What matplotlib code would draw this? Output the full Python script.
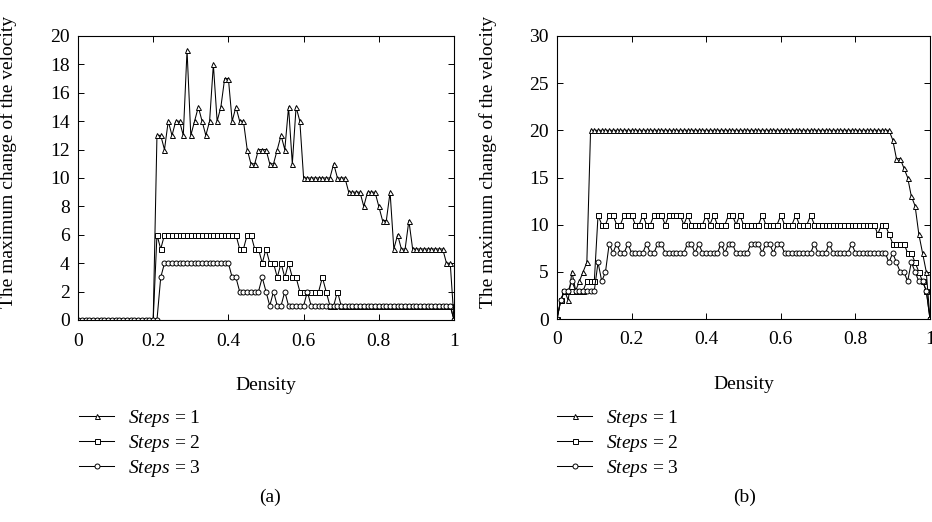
import numpy as np
import matplotlib
matplotlib.use("Agg")
import matplotlib.pyplot as plt

plt.rcParams['font.family'] = ['Liberation Serif', 'DejaVu Serif']
plt.rcParams['mathtext.fontset'] = 'custom'
plt.rcParams['mathtext.rm'] = 'Liberation Serif'
plt.rcParams['mathtext.it'] = 'Liberation Serif:italic'

# densidad 0.00 ... 1.00
density = np.linspace(0, 1, 101)

# panel (a)
a_steps1 = [0, 0, 0, 0, 0, 0, 0, 0, 0, 0,
            0, 0, 0, 0, 0, 0, 0, 0, 0, 0,
            0, 13, 13, 12, 14, 13, 14, 14, 13, 19,
            13, 14, 15, 14, 13, 14, 18, 14, 15, 17,
            17, 14, 15, 14, 14, 12, 11, 11, 12, 12,
            12, 11, 11, 12, 13, 12, 15, 11, 15, 14,
            10, 10, 10, 10, 10, 10, 10, 10, 11, 10,
            10, 10, 9, 9, 9, 9, 8, 9, 9, 9,
            8, 7, 7, 9, 5, 6, 5, 5, 7, 5,
            5, 5, 5, 5, 5, 5, 5, 5, 4, 4,
            0]
a_steps2 = [0, 0, 0, 0, 0, 0, 0, 0, 0, 0,
            0, 0, 0, 0, 0, 0, 0, 0, 0, 0,
            0, 6, 5, 6, 6, 6, 6, 6, 6, 6,
            6, 6, 6, 6, 6, 6, 6, 6, 6, 6,
            6, 6, 6, 5, 5, 6, 6, 5, 5, 4,
            5, 4, 4, 3, 4, 3, 4, 3, 3, 2,
            2, 2, 2, 2, 2, 3, 2, 1, 1, 2,
            1, 1, 1, 1, 1, 1, 1, 1, 1, 1,
            1, 1, 1, 1, 1, 1, 1, 1, 1, 1,
            1, 1, 1, 1, 1, 1, 1, 1, 1, 1,
            0]
a_steps3 = [0, 0, 0, 0, 0, 0, 0, 0, 0, 0,
            0, 0, 0, 0, 0, 0, 0, 0, 0, 0,
            0, 0, 3, 4, 4, 4, 4, 4, 4, 4,
            4, 4, 4, 4, 4, 4, 4, 4, 4, 4,
            4, 3, 3, 2, 2, 2, 2, 2, 2, 3,
            2, 1, 2, 1, 1, 2, 1, 1, 1, 1,
            1, 2, 1, 1, 1, 1, 1, 1, 1, 1,
            1, 1, 1, 1, 1, 1, 1, 1, 1, 1,
            1, 1, 1, 1, 1, 1, 1, 1, 1, 1,
            1, 1, 1, 1, 1, 1, 1, 1, 1, 1,
            0]

# panel (b)
b_steps1 = [0, 2, 3, 2, 5, 3, 4, 5, 6, 20,
            20, 20, 20, 20, 20, 20, 20, 20, 20, 20,
            20, 20, 20, 20, 20, 20, 20, 20, 20, 20,
            20, 20, 20, 20, 20, 20, 20, 20, 20, 20,
            20, 20, 20, 20, 20, 20, 20, 20, 20, 20,
            20, 20, 20, 20, 20, 20, 20, 20, 20, 20,
            20, 20, 20, 20, 20, 20, 20, 20, 20, 20,
            20, 20, 20, 20, 20, 20, 20, 20, 20, 20,
            20, 20, 20, 20, 20, 20, 20, 20, 20, 20,
            19, 17, 17, 16, 15, 13, 12, 9, 7, 5,
            0]
b_steps2 = [0, 2, 3, 3, 3, 3, 3, 3, 4, 4,
            4, 11, 10, 10, 11, 11, 10, 10, 11, 11,
            11, 10, 10, 11, 10, 10, 11, 11, 11, 10,
            11, 11, 11, 11, 10, 11, 10, 10, 10, 10,
            11, 10, 11, 10, 10, 10, 11, 11, 10, 11,
            10, 10, 10, 10, 10, 11, 10, 10, 10, 10,
            11, 10, 10, 10, 11, 10, 10, 10, 11, 10,
            10, 10, 10, 10, 10, 10, 10, 10, 10, 10,
            10, 10, 10, 10, 10, 10, 9, 10, 10, 9,
            8, 8, 8, 8, 7, 7, 6, 5, 4, 3,
            0]
b_steps3 = [0, 2, 3, 3, 4, 3, 3, 3, 3, 3,
            3, 6, 4, 5, 8, 7, 8, 7, 7, 8,
            7, 7, 7, 7, 8, 7, 7, 8, 8, 7,
            7, 7, 7, 7, 7, 8, 8, 7, 8, 7,
            7, 7, 7, 7, 8, 7, 8, 8, 7, 7,
            7, 7, 8, 8, 8, 7, 8, 8, 7, 8,
            8, 7, 7, 7, 7, 7, 7, 7, 7, 8,
            7, 7, 7, 8, 7, 7, 7, 7, 7, 8,
            7, 7, 7, 7, 7, 7, 7, 7, 7, 6,
            7, 6, 5, 5, 4, 6, 5, 4, 4, 3,
            0]

labels = [r'$\mathit{Steps}$ = 1', r'$\mathit{Steps}$ = 2', r'$\mathit{Steps}$ = 3']
markers = ['^', 's', 'o']
xticks = [0, 0.2, 0.4, 0.6, 0.8, 1]
xticklabels = ['0', '0.2', '0.4', '0.6', '0.8', '1']

W, H = 932, 522
fig = plt.figure(figsize=(W / 100, H / 100), dpi=100)

# ejes en pixeles: izquierda, arriba, derecha, abajo
ax1 = fig.add_axes([78 / W, 1 - 320 / H, (454 - 78) / W, (320 - 36) / H])
ax2 = fig.add_axes([557 / W, 1 - 319 / H, (930 - 557) / W, (319 - 36) / H])

def dibujar(ax, series, ymax, ystep, ylabel_x, leg_x, caption, cap_x):
    for ys, m, lab in zip(series, markers, labels):
        ax.plot(density, ys, '-', color='black', lw=0.75, marker=m, ms=3.6,
                mfc='white', mec='black', mew=0.7, label=lab)
    ax.set_xlim(0, 1)
    ax.set_ylim(0, ymax)
    ax.set_xticks(xticks)
    ax.set_xticklabels(xticklabels)
    ax.set_yticks(np.arange(0, ymax + 1, ystep))
    ax.tick_params(direction='in', top=True, right=True, length=4,
                   width=0.7, labelsize=14)
    ax.tick_params(axis='x', pad=9)
    ax.tick_params(axis='y', pad=6)
    for s in ax.spines.values():
        s.set_linewidth(0.8)
    ax.set_xlabel('Density', fontsize=14, labelpad=20)
    ax.set_ylabel('The maximum change of the velocity', fontsize=14)
    ax.yaxis.set_label_coords(ylabel_x, 1 - 162 / H, transform=fig.transFigure)
    ax.legend(loc='upper left', bbox_to_anchor=(leg_x / W, 1 - 408 / H),
              bbox_transform=fig.transFigure, frameon=False, fontsize=14,
              borderpad=0, borderaxespad=0, handlelength=1.8,
              handletextpad=0.7, labelspacing=0.2, numpoints=1)
    fig.text(cap_x / W, 1 - 497 / H, caption, ha='center', va='center',
             fontsize=14)

dibujar(ax1, [a_steps1, a_steps2, a_steps3], 20, 2, 17 / W, 79, '(a)', 270)
dibujar(ax2, [b_steps1, b_steps2, b_steps3], 30, 5, 497 / W, 557, '(b)', 745)

fig.savefig('out.png', dpi=100)
